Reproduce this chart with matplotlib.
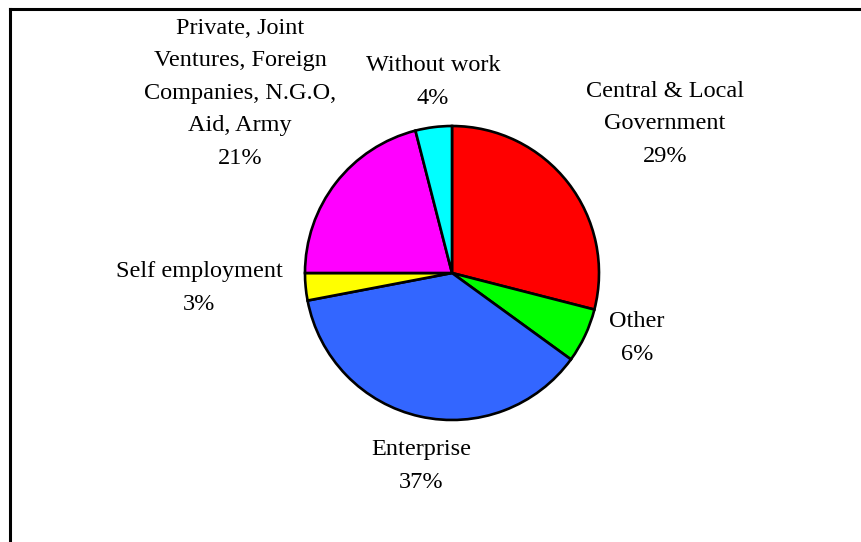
import matplotlib
matplotlib.use("Agg")
import matplotlib.pyplot as plt
from matplotlib.lines import Line2D

categories = ["Central & Local\nGovernment", "Other", "Enterprise", "Self employment",
              "Private, Joint\nVentures, Foreign\nCompanies, N.G.O,\nAid, Army", "Without work"]
values = [29, 6, 37, 3, 21, 4]
colors = ["#FF0000", "#00FF00", "#3366FF", "#FFFF00", "#FF00FF", "#00FFFF"]
# label centre positions (in pie-radius units)
label_x = [1.449, 1.259, -0.211, -1.721, -1.442, -0.129]
label_y = [1.014, -0.442, -1.313, -0.102, 1.224, 1.299]

W, H = 861, 542
fig = plt.figure(figsize=(W / 100, H / 100), dpi=100)
fig.patch.set_facecolor("white")

cx, cy, r = 452, 273, 147
ax = fig.add_axes([(cx - r) / W, (H - cy - r) / H, 2 * r / W, 2 * r / H])
ax.pie(values, colors=colors, startangle=90, counterclock=False, radius=1,
       wedgeprops=dict(edgecolor="black", linewidth=1.9))
ax.set_xlim(-1, 1)
ax.set_ylim(-1, 1)
ax.axis("off")

total = sum(values)
for name, v, lx, ly in zip(categories, values, label_x, label_y):
    pct = round(100 * v / total)
    ax.text(lx, ly, f"{name}\n{pct}%", ha="center", va="center", multialignment="center",
            fontsize=17.5, family="Liberation Serif", linespacing=1.72, color="black")

# outer frame
fig.add_artist(Line2D([10 / W, 10 / W], [0, (H - 9) / H], transform=fig.transFigure,
                      color="black", linewidth=2.2))
fig.add_artist(Line2D([10 / W, 1], [(H - 9) / H, (H - 9) / H], transform=fig.transFigure,
                      color="black", linewidth=2.2))

fig.savefig("out.png", dpi=100)
